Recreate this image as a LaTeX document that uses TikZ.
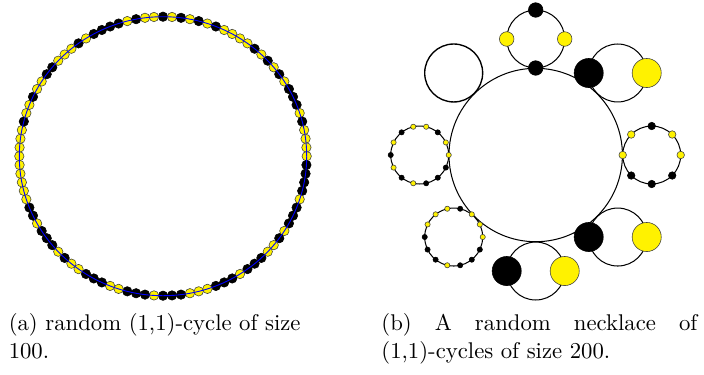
\documentclass[tikz,border=0pt]{standalone}
\usepackage{tikz}
\begin{document}
\begin{tikzpicture}[x=0.44pt,y=-0.44pt,
  yel/.style={circle,draw=black!75,line width=0.25pt,fill=yellow,inner sep=0pt},
  blk/.style={circle,draw=black,line width=0.25pt,fill=black,inner sep=0pt},
  ring/.style={draw=black,line width=0.45pt},
  captxt/.style={anchor=base west,inner sep=0pt,font=\normalsize}]
\useasboundingbox (0,0) rectangle (704,374);
% ---------- (a) random (1,1)-cycle of size 100 ----------
\foreach \c [count=\k from 0] in {blk,yel,blk,yel,blk,yel,blk,yel,yel,yel,
  yel,blk,yel,blk,yel,blk,yel,blk,blk,blk,
  yel,blk,yel,yel,yel,yel,blk,blk,blk,blk,
  yel,blk,blk,blk,yel,blk,yel,yel,blk,blk,
  blk,yel,blk,blk,blk,yel,yel,yel,blk,blk,
  blk,yel,blk,blk,blk,yel,yel,blk,blk,blk,
  yel,yel,blk,yel,blk,blk,blk,yel,blk,blk,
  yel,yel,yel,yel,yel,yel,yel,yel,yel,blk,
  yel,yel,blk,yel,yel,blk,blk,yel,yel,yel,
  blk,yel,blk,blk,blk,blk,yel,blk,yel,yel} {
  \pgfmathsetmacro\ang{90-3.6*\k}
  \node[\c,minimum size=4.15pt] (a\k) at ({163+143.7*cos(\ang)},{156.2-139.5*sin(\ang)}) {};
}
\draw[blue,line width=0.4pt] (163,156.2) ellipse [x radius=143.7, y radius=139.5];
% ---------- (b) random necklace ----------
\node[circle,ring,inner sep=0pt,minimum size=76.3pt] (main) at (535.7,155) {};
% satellites
\foreach \a/\n in {90/top,45/tr,0/rt,-45/br,-90/bt,-135/bl,180/lf} {
  \node[circle,ring,inner sep=0pt,minimum size=25.5pt] (s\n) at ({535.7+116*cos(\a)},{155-116*sin(\a)}) {};
}
\node[circle,draw=black,line width=0.6pt,inner sep=0pt,minimum size=25.5pt] (stl) at ({535.7+116*cos(135)},{155-116*sin(135)}) {};
% top: 4 nodes
\foreach \p/\c [count=\i] in {90/blk,0/yel,180/yel,270/blk} {
  \node[\c,minimum size=6.4pt] (top\i) at ({535.7+29*cos(\p)},{39-29*sin(\p)}) {};
}
% two-node cycles
\foreach \n/\x/\y in {tr/617.7/73, br/617.7/237, bt/535.7/271} {
  \node[blk,minimum size=12.8pt] (\n b) at (\x-29,\y) {};
  \node[yel,minimum size=12.8pt] (\n y) at (\x+29,\y) {};
}
% right: 8 nodes
\foreach \p/\c [count=\i] in {90/blk,45/yel,0/yel,-45/blk,-90/blk,-135/blk,180/yel,135/yel} {
  \node[\c,minimum size=3.3pt] (rt\i) at ({651.7+29*cos(\p)},{155-29*sin(\p)}) {};
}
% left: 14 nodes
\foreach \c [count=\i from 0] in {yel,yel,blk,yel,yel,blk,yel,blk,yel,blk,yel,blk,blk,blk} {
  \pgfmathsetmacro\ang{360/14*\i}
  \node[\c,minimum size=2.3pt] (lf\i) at ({419.7+29*cos(\ang)},{155-29*sin(\ang)}) {};
}
% bottom-left: 14 nodes
\foreach \c [count=\i from 0] in {yel,yel,yel,blk,yel,yel,yel,blk,blk,blk,yel,blk,blk,blk} {
  \pgfmathsetmacro\ang{360/14*\i}
  \node[\c,minimum size=2.3pt] (bl\i) at ({453.7+29*cos(\ang)},{237-29*sin(\ang)}) {};
}
% ---------- captions ----------
\node[captxt] (capa1) at (8.3,330.5) {(a) random (1,1)-cycle of size};
\node[captxt] (capa2) at (8.3,358.5) {100.};
\node[captxt] (capb1) at (381,330.5) {\makebox[139pt][s]{(b) A random necklace of}};
\node[captxt] (capb2) at (381,358.5) {(1,1)-cycles of size 200.};
\end{tikzpicture}
\end{document}
